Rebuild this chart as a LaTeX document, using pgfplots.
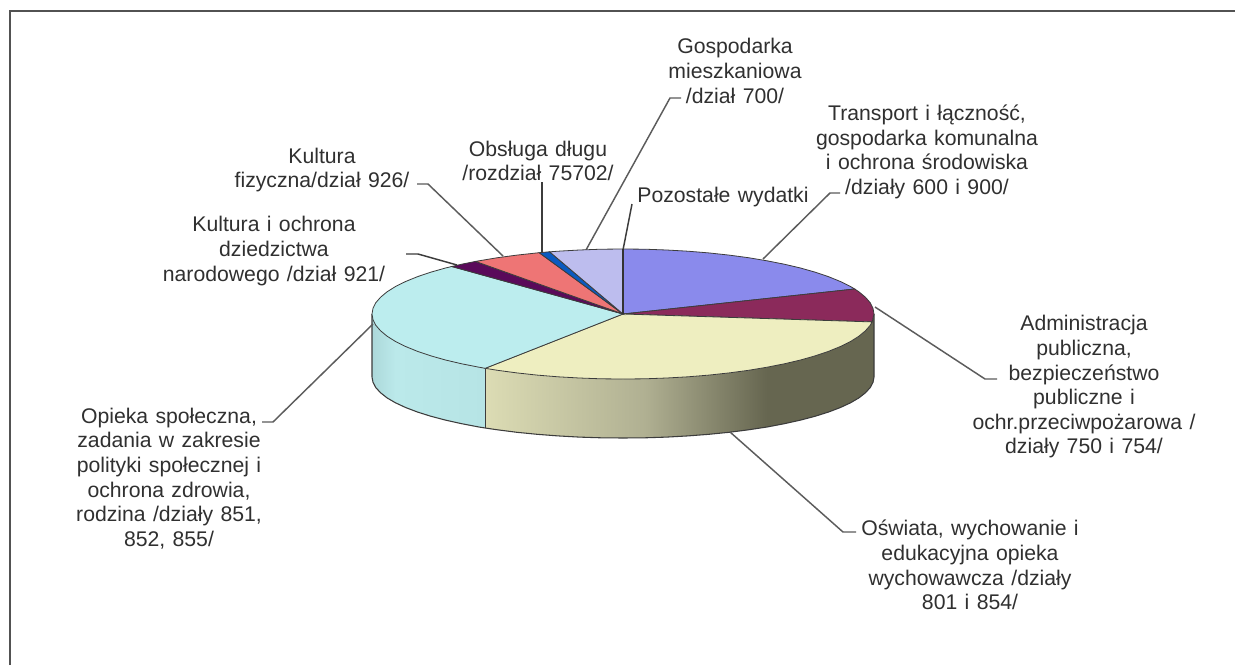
\documentclass[border=0pt]{standalone}
\usepackage{pgfplots}
\pgfplotsset{compat=1.18}
\usepackage{fontspec}
\setmainfont[WordSpace=1.25]{Liberation Sans}
\definecolor{txt}{HTML}{303030}
\definecolor{ldr}{HTML}{5C5C5C}
\definecolor{edge}{HTML}{3C3C3C}
\definecolor{cTrans}{HTML}{8A8AEC}
\definecolor{cAdm}{HTML}{8B2A5B}
\definecolor{cOsw}{HTML}{EEEEC0}
\definecolor{cOpi}{HTML}{BCEDEE}
\definecolor{cKul}{HTML}{5A0A5A}
\definecolor{cFiz}{HTML}{EE7575}
\definecolor{cObs}{HTML}{0A5AC0}
\definecolor{cGos}{HTML}{BDBDEE}
\definecolor{sA}{RGB}{220,220,180}
\definecolor{sB}{RGB}{176,176,146}
\definecolor{sC}{RGB}{102,102,80}
\definecolor{oA}{RGB}{172,216,218}
\definecolor{oB}{RGB}{187,233,234}
\definecolor{oC}{RGB}{182,228,229}
\begin{document}
\begin{tikzpicture}[every node/.style={font=\fontsize{15.9}{18.45}\selectfont, text=txt, align=center, inner sep=0pt}]
\begin{axis}[
  scale only axis, width=926.25pt, height=498.75pt,
  xmin=0, xmax=1235, ymin=0, ymax=665, y dir=reverse,
  hide axis, no markers,
]
% page background and frame
\addplot[fill=white, draw=none] coordinates {(0,0)(1235,0)(1235,665)(0,665)} -- cycle;
\addplot[draw=black!68, line width=1.6pt] coordinates {(9.8,665)(9.8,10.8)(1235,10.8)};
% sides
\addplot[draw=none, left color=sA, right color=sB] coordinates {(644.9,378.8)(623,379)(601.1,378.8)(579.4,378)(558,376.8)(537.2,375.1)(516.9,372.9)(497.5,370.3)(485.2,368.3)(485.2,428)(497.5,429.8)(516.9,432.3)(537.2,434.3)(558,435.9)(579.4,437.1)(601.1,437.8)(623,438)(644.9,437.8)} -- cycle;
\addplot[draw=none, left color=sB, right color=sC] coordinates {(767,367.2)(748.5,370.3)(729.1,372.9)(708.8,375.1)(688,376.8)(666.6,378)(644.9,378.8)(644.9,437.8)(666.6,437.1)(688,435.9)(708.8,434.3)(729.1,432.3)(748.5,429.8)(767,427)} -- cycle;
\addplot[draw=none, fill=sC] coordinates {(874,314)(873,319.7)(870.2,325.3)(865.4,330.8)(858.9,336.2)(850.5,341.5)(840.4,346.5)(828.6,351.3)(815.3,355.8)(800.5,360)(784.3,363.8)(767,367.2)(767,427)(784.3,423.7)(800.5,420.1)(815.3,416.2)(828.6,412)(840.4,407.5)(850.5,402.8)(858.9,397.9)(865.4,392.8)(870.2,387.6)(873,382.3)(874,377)} -- cycle;
\addplot[draw=none, left color=oA, right color=oB] coordinates {(395.5,341.5)(387.1,336.2)(380.6,330.8)(375.8,325.3)(373,319.7)(372,314)(372,377)(373,382.3)(375.8,387.6)(380.6,392.8)(387.1,397.9)(395.5,402.8)} -- cycle;
\addplot[draw=none, left color=oB, right color=oC] coordinates {(485.2,368.3)(479,367.2)(461.7,363.8)(445.5,360)(430.7,355.8)(417.4,351.3)(405.6,346.5)(395.5,341.5)(395.5,402.8)(405.6,407.5)(417.4,412)(430.7,416.2)(445.5,420.1)(461.7,423.7)(479,427)(485.2,428)} -- cycle;
% side outlines
\addplot[draw=edge, line width=0.8pt] coordinates {(874,314)(874,377)(873,382.3)(870.2,387.6)(865.4,392.8)(858.9,397.9)(850.5,402.8)(840.4,407.5)(828.6,412)(815.3,416.2)(800.5,420.1)(784.3,423.7)(767,427)(748.5,429.8)(729.1,432.3)(708.8,434.3)(688,435.9)(666.6,437.1)(644.9,437.8)(623,438)(601.1,437.8)(579.4,437.1)(558,435.9)(537.2,434.3)(516.9,432.3)(497.5,429.8)(485.2,428)(479,427)(461.7,423.7)(445.5,420.1)(430.7,416.2)(417.4,412)(405.6,407.5)(395.5,402.8)(387.1,397.9)(380.6,392.8)(375.8,387.6)(373,382.3)(372,377)(372,314)};
\addplot[draw=edge, line width=0.6pt] coordinates {(485.2,368.3)(485.2,428)};
% leader lines
\addplot[draw=ldr, line width=1.1pt] coordinates {(586,250)(670,98)(681,98)};
\addplot[draw=edge, line width=1.1pt] coordinates {(623,250)(632,204)};
\addplot[draw=edge, line width=1.1pt] coordinates {(542,182)(542,253)};
\addplot[draw=ldr, line width=1.1pt] coordinates {(417,184)(428,184)(503,256)};
\addplot[draw=edge, line width=1.1pt] coordinates {(406,254)(418,254)(457,265)};
\addplot[draw=ldr, line width=1.1pt] coordinates {(373,324)(273,422)(262,422)};
\addplot[draw=ldr, line width=1.1pt] coordinates {(763,259)(830,193)(840,193)};
\addplot[draw=ldr, line width=1.1pt] coordinates {(875,307)(985,379)(997,379)};
\addplot[draw=ldr, line width=1.1pt] coordinates {(730,432)(843,532)(856,532)};
% top surface slices
\addplot[fill=cTrans, draw=edge, line width=0.6pt] coordinates {(623,314)(623,249)(644.9,249.2)(666.6,250)(688,251.2)(708.8,252.9)(729.1,255.1)(748.5,257.7)(767,260.8)(784.3,264.2)(800.5,268)(815.3,272.2)(828.6,276.7)(840.4,281.5)(850.5,286.5)(854.7,289)} -- cycle;
\addplot[fill=cAdm, draw=edge, line width=0.6pt] coordinates {(623,314)(854.7,289)(858.9,291.8)(865.4,297.2)(870.2,302.7)(873,308.3)(874,314)(872.1,321.9)} -- cycle;
\addplot[fill=cOsw, draw=edge, line width=0.6pt] coordinates {(623,314)(872.1,321.9)(870.2,325.3)(865.4,330.8)(858.9,336.2)(850.5,341.5)(840.4,346.5)(828.6,351.3)(815.3,355.8)(800.5,360)(784.3,363.8)(767,367.2)(748.5,370.3)(729.1,372.9)(708.8,375.1)(688,376.8)(666.6,378)(644.9,378.8)(623,379)(601.1,378.8)(579.4,378)(558,376.8)(537.2,375.1)(516.9,372.9)(497.5,370.3)(485.2,368.3)} -- cycle;
\addplot[fill=cOpi, draw=edge, line width=0.6pt] coordinates {(623,314)(485.2,368.3)(479,367.2)(461.7,363.8)(445.5,360)(430.7,355.8)(417.4,351.3)(405.6,346.5)(395.5,341.5)(387.1,336.2)(380.6,330.8)(375.8,325.3)(373,319.7)(372,314)(373,308.3)(375.8,302.7)(380.6,297.2)(387.1,291.8)(395.5,286.5)(405.6,281.5)(417.4,276.7)(430.7,272.2)(445.5,268)(451.8,266.5)} -- cycle;
\addplot[fill=cKul, draw=edge, line width=0.6pt] coordinates {(623,314)(451.8,266.5)(461.7,264.2)(475.5,261.4)} -- cycle;
\addplot[fill=cFiz, draw=edge, line width=0.6pt] coordinates {(623,314)(475.5,261.4)(479,260.8)(497.5,257.7)(516.9,255.1)(537.2,252.9)(539.2,252.7)} -- cycle;
\addplot[fill=cObs, draw=edge, line width=0.6pt] coordinates {(623,314)(539.2,252.7)(549.6,251.8)} -- cycle;
\addplot[fill=cGos, draw=edge, line width=0.6pt] coordinates {(623,314)(549.6,251.8)(558,251.2)(579.4,250)(601.1,249.2)(623,249)} -- cycle;
\addplot[draw=black!80, line width=0.8pt] coordinates {(623,249)(623,314)};
% labels
\node at (axis cs:735,71) {Gospodarka\\mieszkaniowa\\/dział 700/};
\node at (axis cs:927,152) {Transport i łączność,\\gospodarka komunalna\\i ochrona środowiska\\/działy 600 i 900/};
\node at (axis cs:538,161) {Obsługa długu\\/rozdział 75702/};
\node at (axis cs:723,197.5) {Pozostałe wydatki};
\node at (axis cs:322,170) {Kultura\\fizyczna/dział 926/};
\node at (axis cs:274,251) {Kultura i ochrona\\dziedzictwa\\narodowego /dział 921/};
\node at (axis cs:169,478.5) {Opieka społeczna,\\zadania w zakresie\\polityki społecznej i\\ochrona zdrowia,\\rodzina /działy 851,\\852, 855/};
\node at (axis cs:1084,387) {Administracja\\publiczna,\\bezpieczeństwo\\publiczne i\\ochr.przeciwpożarowa /\\działy 750 i 754/};
\node at (axis cs:970,565) {Oświata, wychowanie i\\edukacyjna opieka\\wychowawcza /działy\\801 i 854/};
\end{axis}
\end{tikzpicture}
\end{document}
